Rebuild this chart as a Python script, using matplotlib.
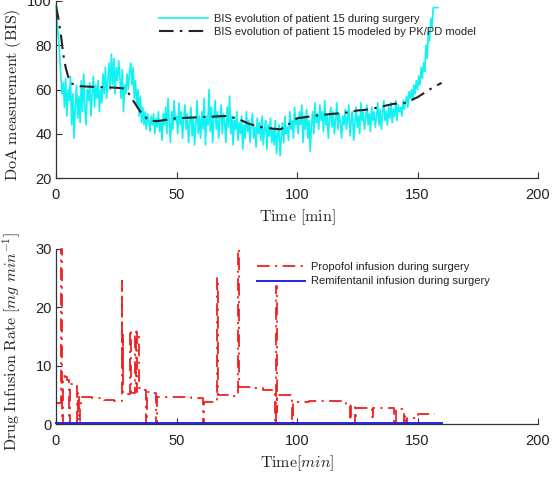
import numpy as np
import matplotlib
matplotlib.use("Agg")
import matplotlib.pyplot as plt

plt.rcParams['font.family'] = ['Liberation Sans', 'DejaVu Sans']
plt.rcParams['mathtext.fontset'] = 'cm'

# ---------------- data ----------------
# measured BIS, sampled every 0.5 min starting at t = 0
bis_measured = [
    98, 90, 84, 76, 66, 58, 63, 52, 65, 48, 60, 55, 66, 44, 58, 38, 52, 62, 47, 57,
    45, 64, 50, 67, 52, 44, 60, 55, 63, 48, 58, 66, 52, 62, 56, 64, 50, 60, 54, 67,
    58, 70, 56, 64, 72, 60, 76, 62, 74, 58, 70, 64, 73, 66, 56, 69, 50, 62, 58, 67,
    60, 68, 72, 62, 70, 56, 64, 52, 60, 48, 57, 45, 52, 44, 50, 42, 49, 46, 41, 48,
    44, 49, 40, 47, 43, 50, 41, 46, 37, 49, 44, 52, 40, 56, 45, 36, 50, 42, 55, 46,
    48, 40, 54, 44, 50, 38, 47, 53, 42, 49, 36, 45, 52, 39, 47, 35, 44, 55, 40, 48,
    38, 50, 42, 56, 35, 48, 44, 60, 41, 52, 36, 47, 55, 42, 50, 38, 46, 53, 40, 49,
    45, 36, 52, 43, 57, 40, 48, 35, 46, 42, 50, 37, 45, 40, 48, 33, 44, 38, 50, 41,
    46, 36, 44, 49, 38, 43, 34, 47, 40, 45, 37, 48, 35, 42, 46, 33, 44, 39, 47, 36,
    42, 35, 46, 31, 40, 44, 30, 38, 45, 36, 48, 40, 43, 37, 50, 42, 46, 38, 52, 44,
    47, 40, 50, 44, 53, 36, 48, 42, 51, 38, 46, 32, 44, 50, 40, 54, 45, 49, 42, 53,
    46, 50, 41, 55, 44, 48, 38, 47, 52, 43, 50, 40, 46, 54, 42, 49, 45, 38, 48, 44,
    51, 42, 47, 53, 39, 46, 50, 37, 45, 52, 43, 48, 40, 54, 46, 50, 42, 47, 53, 44,
    49, 41, 52, 46, 50, 43, 48, 54, 44, 51, 42, 49, 55, 46, 50, 44, 52, 47, 54, 45,
    51, 48, 55, 46, 53, 50, 52, 48, 55, 51, 54, 57, 52, 59, 56, 60, 55, 62, 58, 64,
    60, 66, 62, 70, 65, 72, 68, 80, 74, 86, 82, 92, 88, 97, 97, 97, 97, 97,
]
bis_time = np.arange(len(bis_measured)) * 0.5

model_time = [0, 1, 2, 3, 4, 5, 6, 8, 10, 15, 20, 25, 28, 30, 32, 35, 38, 40, 42,
              50, 60, 70, 75, 80, 85, 90, 93, 95, 98, 100, 110, 120, 125, 130,
              140, 145, 150, 155, 160]
model_bis = [98, 92, 85, 76, 70, 66, 63, 62, 61.5, 61.2, 61, 60.8, 60.5, 58.5, 55,
             50, 46.5, 45.8, 45.7, 47, 47.5, 48, 47, 44.5, 43, 42.3, 42, 43, 45.5,
             47, 48.5, 49.5, 50.5, 51, 53.5, 54, 56.5, 60, 63]

propofol_time = [0.0, 2.0, 2.5, 2.9, 3.8, 4.6, 5.4, 6.0, 7.5, 8.6, 9.0, 9.6, 10.0,
                 10.4, 15, 20, 24, 27.2, 27.5, 27.7, 27.9, 30.8, 31.3, 32.6, 33.2,
                 33.8, 34.4, 36.0, 37.4, 37.8, 39.5, 41.5, 42.0, 50, 56, 60.8, 61.3,
                 66.6, 67.1, 72, 75.5, 76.0, 82, 86, 89.5, 90.8, 91.2, 91.5, 91.8,
                 97.8, 98.2, 105, 112, 120.5, 122.0, 122.4, 124.2, 124.6, 131.0,
                 131.4, 140.4, 140.9, 144.2, 144.7, 145.3, 145.8, 149.6, 150.3, 157.2]
propofol_rate = [3.6, 30, 0, 8.3, 8.0, 7.6, 0, 6.9, 6.7, 0, 5.5, 0.5, 2.5,
                 4.6, 4.4, 4.1, 3.9, 24.5, 9, 15.5, 5.2, 16.2, 5.3, 16.0, 5.5,
                 15.8, 6.1, 5.9, 0, 5.5, 5.3, 0, 4.7, 4.6, 4.5, 0, 3.7,
                 25, 4.9, 4.8, 30, 6.3, 6.1, 5.9, 5.7, 0, 23.7, 2, 4.9,
                 0, 3.8, 3.9, 4.0, 3.5, 0, 3.3, 0, 2.8, 1.2,
                 2.8, 0, 2.5, 0, 1.5, 0, 1.0, 1.5, 1.7, 1.7]

remi_time = [0, 160]
remi_rate = [0.25, 0.25]

# ---------------- figure ----------------
W, H = 553, 482
fig = plt.figure(figsize=(W / 100, H / 100), dpi=100)

def px_axes(x0, y_top, x1, y_bot):
    return fig.add_axes([x0 / W, 1 - y_bot / H, (x1 - x0) / W, (y_bot - y_top) / H])

ax1 = px_axes(56, 1, 538, 178)
ax2 = px_axes(56, 249, 538, 424)

spine_col = '#333333'
for ax in (ax1, ax2):
    ax.spines['top'].set_visible(False)
    ax.spines['right'].set_visible(False)
    for s in ('left', 'bottom'):
        ax.spines[s].set_color(spine_col)
        ax.spines[s].set_linewidth(0.9)
    ax.tick_params(direction='in', length=4, width=0.8, colors=spine_col,
                   labelsize=10.5, labelcolor='#222222')
    ax.tick_params(axis='x', pad=7)
    ax.tick_params(axis='y', pad=3)
    ax.set_xlim(0, 200)
    ax.set_xticks([0, 50, 100, 150, 200])

# top panel
ax1.plot(bis_time, bis_measured, color='#11F2F2', lw=1.2,
         label='BIS evolution of patient 15 during surgery', clip_on=False)
ax1.plot(model_time, model_bis, color='#222222', lw=1.5, dashes=[7, 3, 1.2, 3],
         label='BIS evolution of patient 15 modeled by PK/PD model')
ax1.set_ylim(20, 100)
ax1.set_yticks([20, 40, 60, 80, 100])
ax1.set_xlabel(r'$\mathrm{Time\ [min]}$', fontsize=11.5, labelpad=4, color='#222222')
ax1.set_ylabel(r'$\mathrm{DoA\ measurement\ (BIS)}$', fontsize=11.5, color='#222222')
ax1.yaxis.set_label_coords(-0.069, 0.47)
leg1 = ax1.legend(loc='upper left', bbox_to_anchor=(159 / W, 1 - 14 / H),
                  bbox_transform=fig.transFigure, frameon=False, fontsize=8,
                  borderpad=0, borderaxespad=0, handlelength=4.4,
                  handletextpad=0.55, labelspacing=0.3)
for t in leg1.get_texts():
    t.set_color('#222222')

# bottom panel
ax2.plot(propofol_time, propofol_rate, drawstyle='steps-post', color='#EE2222',
         lw=1.3, dashes=[7, 3, 1.2, 3], label='Propofol infusion during surgery',
         clip_on=False)
ax2.plot(remi_time, remi_rate, color='#2222EE', lw=1.4,
         label='Remifentanil infusion during surgery', clip_on=False)
ax2.set_ylim(0, 30)
ax2.set_yticks([0, 10, 20, 30])
ax2.set_xlabel(r'$\mathrm{Time}[min]$', fontsize=11.5, labelpad=4, color='#222222')
ax2.set_ylabel(r'$\mathrm{Drug\ Infusion\ Rate\ }[mg\ min^{-1}]$', fontsize=11.5,
               color='#222222')
ax2.yaxis.set_label_coords(-0.069, 0.47)
leg2 = ax2.legend(loc='upper left', bbox_to_anchor=(257 / W, 1 - 262 / H),
                  bbox_transform=fig.transFigure, frameon=False, fontsize=8,
                  borderpad=0, borderaxespad=0, handlelength=4.3,
                  handletextpad=0.55, labelspacing=0.4)
for t in leg2.get_texts():
    t.set_color('#222222')

fig.savefig('out.png', dpi=100)
